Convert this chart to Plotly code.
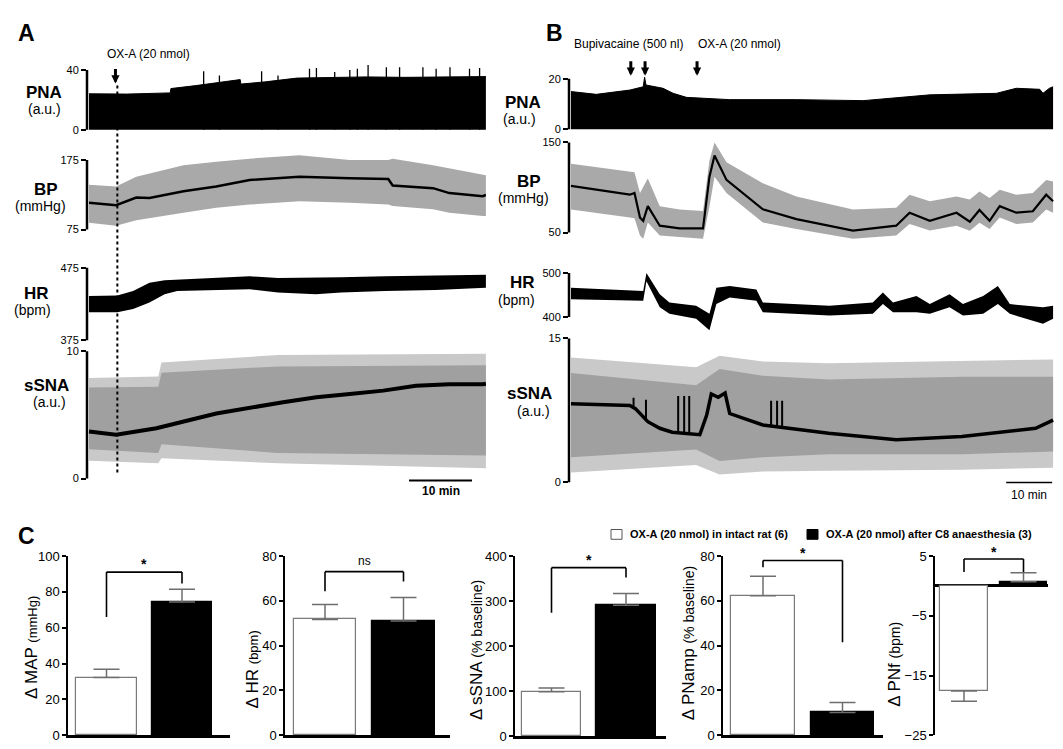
import plotly.graph_objects as go

W, H = 1063, 749
FONT = "Liberation Sans, Arial, Helvetica, sans-serif"

# ================= Panel A recordings (time in min) =================
pnaA_t   = [0, 6, 12.9, 13.0, 17, 21, 24, 24.1, 28, 33, 38, 44, 50, 56, 63]
pnaA_top = [24.0, 23.8, 24.6, 27.5, 29.5, 31.5, 33.5, 30.5, 32.0, 34.5, 35.0, 35.3, 35.0, 35.0, 35.5]
pnaA_spk_t = [18.2, 20.7, 27.4, 30.0, 35.0, 36.1, 39.0, 41.4, 42.6, 44.3, 47.2, 49.3, 53.0, 55.1, 57.3, 60.4, 62.0]
pnaA_spk_h = [39.1, 36.3, 39.1, 36.3, 40.7, 41.3, 38.5, 40.0, 40.7, 43.3, 41.8, 41.8, 41.8, 40.7, 41.8, 40.7, 41.3]

bpA_t    = [0, 4.3, 7.5, 9.6, 15, 20.2, 25.5, 33.4, 41.4, 47.5, 48.2, 54.6, 57.2, 62.5, 63]
bpA_mean = [113.5, 110.2, 121, 120.5, 130, 137, 146.4, 151, 148.7, 147.8, 138.4, 134.6, 127.5, 123, 125]
bpA_up   = [139.4, 137, 151, 155.7, 167.5, 172.5, 177, 182, 175, 175, 177, 167.5, 163, 153, 153]
bpA_lo   = [85, 80.6, 88.6, 92.3, 99.4, 106.4, 111, 115.8, 113.5, 111, 109, 104.2, 99.4, 94.7, 94.7]

hrA_t   = [0, 4.5, 7, 9.6, 12, 14, 20, 25.5, 30, 36, 40, 47, 55, 63]
hrA_top = [436.3, 437, 443, 454.3, 457.9, 458.8, 461, 463.3, 461, 461, 462, 463.3, 464.6, 465.5]
hrA_bot = [413.7, 413.7, 418.2, 427.3, 438.5, 443, 444.4, 445.3, 441, 438.5, 441, 443, 444.4, 447.6]

ssnaA_t    = [0, 4.3, 10.7, 15, 20.2, 30.8, 36.1, 41.4, 46.7, 51.9, 57.2, 62.5, 63]
ssnaA_mean = [3.69, 3.44, 3.95, 4.46, 5.1, 5.99, 6.38, 6.64, 6.9, 7.28, 7.41, 7.41, 7.45]
ssnaA_env_t   = [0, 11, 11.5, 30, 63]
ssnaA_core_up = [7.15, 7.2, 8.3, 8.8, 8.9]
ssnaA_core_lo = [2.3, 2.0, 2.7, 2.0, 1.8]
ssnaA_tip_up  = [7.9, 8.0, 9.1, 9.7, 9.8]
ssnaA_tip_lo  = [1.4, 1.2, 1.6, 1.2, 0.8]

eventsA_t = [4.2]
dottedA_t = 4.5

# ================= Panel B recordings (time in min) =================
pnaB_t   = [0, 5.5, 12.8, 15.7, 16.0, 16.3, 20, 22.2, 25.1, 34.5, 49, 63.5, 78, 92.5, 96.8, 101.9, 102.6, 104, 104.8]
pnaB_top = [14.9, 13.8, 15.5, 16.8, 20.6, 17.5, 16.2, 14.2, 12.6, 11.7, 11.7, 11.3, 13.6, 14.2, 16.2, 15.8, 14.2, 16.2, 16.8]

bpB_t    = [0, 12.8, 13.8, 15, 15.7, 16.7, 19.3, 23.6, 28.7, 30.1, 31.2, 33.8, 41.7, 49, 61.3, 70.7, 73.6, 78,
            83.8, 86.7, 88.8, 91, 93.2, 96.8, 100.4, 103.3, 104.8]
bpB_mean = [101.8, 92, 93.8, 66.6, 63, 79.3, 57.6, 54.7, 54.7, 112, 135.5, 108.4, 75.8, 64.9, 52.2, 57.6, 72, 63,
            72, 62, 75, 63, 79.3, 72, 73.6, 92, 84.8]
bpB_up   = [126.4, 117.4, 117, 93.8, 101, 110, 79.3, 75.7, 74, 130, 150, 128, 104.7, 90, 75.7, 77.5, 92, 84.8,
            90, 86.6, 95.6, 88.4, 97.5, 92, 93.8, 108.4, 106.6]
bpB_lo   = [75.7, 66.6, 66, 46.7, 43, 61.2, 46.7, 45, 43, 79, 112, 94, 61.2, 54, 43, 46.7, 59.4, 52.2,
            57.6, 52, 61, 54, 66.6, 59.4, 61.2, 75.7, 72]

hrB_t   = [0, 15.7, 16.4, 19.3, 21.4, 27.2, 30.1, 31.6, 34.5, 40.3, 41.7, 56.2, 65.6, 67.8, 70, 75.1, 78,
           82.3, 85.2, 89.6, 92.8, 95.4, 102.6, 104.8]
hrB_top = [466.7, 459.2, 500, 451.8, 433.3, 425.9, 407.4, 466.7, 470.3, 462.9, 433.3, 425.9, 433.3, 455.6,
           433.3, 448.1, 429.6, 451.8, 429.6, 448.1, 470.3, 429.6, 422.2, 425.9]
hrB_bot = [440.7, 437, 481.5, 422.2, 407.4, 396.3, 370.3, 429.6, 444.4, 437, 411, 403.6, 407.4, 429.6,
           411, 411, 407.4, 422.2, 403.6, 407.4, 429.6, 407.4, 385.2, 396.3]

ssnaB_t    = [0, 12.8, 14, 16.7, 19.3, 22, 28, 29.5, 30.5, 32, 33.5, 34.5, 41.7, 56, 70.7, 85, 101, 103.8, 104.8]
ssnaB_mean = [8.18, 8.01, 7.67, 6.31, 5.62, 5.21, 4.95, 7.0, 9.2, 8.86, 9.3, 7.16, 5.97, 5.11, 4.43, 4.77,
              5.62, 6.31, 6.48]
ssnaB_spk_t    = [13.6, 16.3, 23.3, 24.6, 25.7, 43.5, 44.8, 45.9]
ssnaB_spk_base = [7.9, 6.6, 5.1, 5.1, 5.0, 5.8, 5.8, 5.7]
ssnaB_spk_top  = [8.8, 8.6, 9.0, 9.0, 9.0, 8.5, 8.5, 8.5]
ssnaB_env_t   = [0, 27.2, 32.3, 41.7, 56, 85, 104.8]
ssnaB_core_up = [11.4, 10.1, 11.8, 11.1, 10.7, 11.0, 11.0]
ssnaB_core_lo = [2.6, 3.4, 2.2, 2.6, 2.9, 2.9, 3.2]
ssnaB_tip_up  = [13.0, 12.0, 13.2, 12.6, 12.4, 12.6, 12.8]
ssnaB_tip_lo  = [1.0, 1.8, 0.8, 1.1, 1.2, 1.3, 1.5]

eventsB_t = [13.0, 16.1, 27.4]

# ================= Panel C group data =================
conds = ["OX-A (20 nmol) in intact rat (6)", "OX-A (20 nmol) after C8 anaesthesia (3)"]
map_mean, map_err = [32.2, 74.3], [4.6, 7.1]
hr_mean, hr_err = [51.7, 51.0], [6.6, 10.5]
ssna_mean, ssna_err = [98.5, 290.6], [8.5, 26.0]
pnamp_mean, pnamp_err = [62.2, 10.2], [8.8, 4.4]
pnf_mean, pnf_err = [-17.6, 0.7], [1.7, 1.5]
# significance brackets: (top, left leg end, right leg end, mark height, mark)
map_sig = (91, 66, 84.7, 95.5, "*")
hr_sig = (73, 64.3, 68.6, 77.8, "ns")
ssna_sig = (374, 274, 352, 391, "*")
pnamp_sig = (78, 75, 41.5, 81.5, "*")
pnf_sig = (4.5, 2.3, 2.3, 5.7, "*")


# ================= helpers =================
def lin(p, p1, v1, p2, v2):
    return v1 + (p - p1) * (v2 - v1) / (p2 - p1)


def px(p):
    return p / W


def py(p):
    return 1 - p / H


fig = go.Figure()
layout = {}
shapes = []
annots = []


def set_axes(n, xpx, xcal, ypx, ycal, xopts=None, yopts=None, tsize=11):
    sx = "" if n == 1 else str(n)
    xr = [lin(xpx[0], *xcal), lin(xpx[1], *xcal)]
    yr = [lin(ypx[1], *ycal), lin(ypx[0], *ycal)]
    xa = dict(domain=[px(xpx[0]), px(xpx[1])], range=xr, anchor="y" + sx, showgrid=False,
              zeroline=False, fixedrange=True)
    ya = dict(domain=[py(ypx[1]), py(ypx[0])], range=yr, anchor="x" + sx, showgrid=False,
              zeroline=False, fixedrange=True, tickfont=dict(size=tsize, color="black", family=FONT))
    if xopts:
        xa.update(xopts)
    if yopts:
        ya.update(yopts)
    layout["xaxis" + sx] = xa
    layout["yaxis" + sx] = ya
    return "x" + sx, "y" + sx


def trace_yaxis(lo, hi):
    return dict(tickvals=[lo, hi], ticks="outside", ticklen=5, tickwidth=2, tickcolor="black",
                showline=False)


def bracket(xr, yr, lo, hi):
    shapes.append(dict(type="line", xref=xr + " domain", yref=yr, x0=0, x1=0, y0=lo, y1=hi,
                       line=dict(color="black", width=2.5)))


def band(xr, yr, t, up, lo, color):
    fig.add_trace(go.Scatter(x=list(t) + list(t)[::-1], y=list(up) + list(lo)[::-1], fill="toself",
                             fillcolor=color, line=dict(width=0), mode="lines", xaxis=xr, yaxis=yr,
                             hoverinfo="skip", showlegend=False))


def line(xr, yr, t, v, width=2, color="black"):
    fig.add_trace(go.Scatter(x=t, y=v, mode="lines", line=dict(color=color, width=width),
                             xaxis=xr, yaxis=yr, hoverinfo="skip", showlegend=False))


def spikes(xr, yr, t, base, top, width=1.5):
    xs, ys = [], []
    for ti, b, h in zip(t, base, top):
        xs += [ti, ti, None]
        ys += [b, h, None]
    fig.add_trace(go.Scatter(x=xs, y=ys, mode="lines", line=dict(color="black", width=width),
                             xaxis=xr, yaxis=yr, hoverinfo="skip", showlegend=False))


def ann(text, x, y, size=12, bold=False, xanchor="center", yanchor="middle", **kw):
    d = dict(text=("<b>%s</b>" % text) if bold else text, x=x, y=y, xref=kw.pop("xref", "paper"),
             yref=kw.pop("yref", "paper"), showarrow=False, xanchor=xanchor, yanchor=yanchor,
             font=dict(size=size, color="black", family=FONT))
    d.update(kw)
    annots.append(d)


def arrow(xref, t, ytip):
    annots.append(dict(x=t, y=py(ytip), xref=xref, yref="paper", ax=0, ay=-16, showarrow=True, text="",
                       arrowhead=2, arrowsize=0.55, arrowwidth=3, arrowcolor="black"))


XA = (81, 0, 81 + 6.3 * 63, 63)      # panel A time calibration
XB = (563, 0, 563 + 4.6 * 104.8, 104.8)  # panel B time calibration
XA_PX = (79, 478)
XB_PX = (561, 1046)
noX = dict(visible=False)

# ---------------- Panel A ----------------
xr, yr = set_axes(1, XA_PX, XA, (44, 118), (56, 40, 117, 0), noX, trace_yaxis(0, 40))
fig.add_trace(go.Scatter(x=pnaA_t, y=pnaA_top, fill="tozeroy", fillcolor="black", mode="lines",
                         line=dict(color="black", width=1), xaxis=xr, yaxis=yr, hoverinfo="skip",
                         showlegend=False))
spikes(xr, yr, pnaA_spk_t, [0] * len(pnaA_spk_t), pnaA_spk_h, 1.3)
bracket(xr, yr, 0, 40)
xA1 = xr

xr, yr = set_axes(2, XA_PX, XA, (135, 223), (148, 175, 219, 75), noX, trace_yaxis(75, 175))
band(xr, yr, bpA_t, bpA_up, bpA_lo, "#a9a9a9")
line(xr, yr, bpA_t, bpA_mean, 2.5)
bracket(xr, yr, 75, 175)

xr, yr = set_axes(3, XA_PX, XA, (250, 334), (258, 475, 332, 375), noX, trace_yaxis(375, 475))
band(xr, yr, hrA_t, hrA_top, hrA_bot, "black")
bracket(xr, yr, 375, 475)

xr, yr = set_axes(4, XA_PX, XA, (336, 475), (343, 10, 473, 0), noX, trace_yaxis(0, 10))
band(xr, yr, ssnaA_env_t, ssnaA_tip_up, ssnaA_tip_lo, "#c9c9c9")
band(xr, yr, ssnaA_env_t, ssnaA_core_up, ssnaA_core_lo, "#a0a0a0")
line(xr, yr, ssnaA_t, ssnaA_mean, 4)
bracket(xr, yr, 0, 10)
xA4 = xr

# dotted drug line, arrow, scale bar
shapes.append(dict(type="line", xref=xA1, yref="paper", x0=dottedA_t, x1=dottedA_t, y0=py(72), y1=py(470),
                   line=dict(color="black", width=2, dash="dot")))
for t in eventsA_t:
    arrow(xA1, t, 70)
ann("OX-A (20 nmol)", px(140), py(40), 12)
shapes.append(dict(type="line", xref=xA4, yref="paper", x0=50.8, x1=60.8, y0=py(475), y1=py(475),
                   line=dict(color="black", width=2)))
ann("10 min", 55.8, py(486), 12, True, xref=xA4)

# labels A
ann("PNA", px(36), py(79), 17, True)
ann("(a.u.)", px(36), py(96), 14)
ann("BP", px(38), py(178), 17, True)
ann("(mmHg)", px(32), py(195), 14)
ann("HR", px(28), py(284), 17, True)
ann("(bpm)", px(24), py(301), 14)
ann("sSNA", px(38), py(378), 17, True)
ann("(a.u.)", px(41), py(395), 14)

# ---------------- Panel B ----------------
xr, yr = set_axes(5, XB_PX, XB, (58, 118), (65, 20, 116.5, 0), noX, trace_yaxis(0, 20))
fig.add_trace(go.Scatter(x=pnaB_t, y=pnaB_top, fill="tozeroy", fillcolor="black", mode="lines",
                         line=dict(color="black", width=1), xaxis=xr, yaxis=yr, hoverinfo="skip",
                         showlegend=False))
bracket(xr, yr, 0, 20)
xB1 = xr

xr, yr = set_axes(6, XB_PX, XB, (123, 232), (130, 150, 222, 50), noX, trace_yaxis(50, 150))
band(xr, yr, bpB_t, bpB_up, bpB_lo, "#a9a9a9")
line(xr, yr, bpB_t, bpB_mean, 2.2)
bracket(xr, yr, 50, 150)

xr, yr = set_axes(7, XB_PX, XB, (258, 326), (263.3, 500, 308.3, 400), noX, trace_yaxis(400, 500))
band(xr, yr, hrB_t, hrB_top, hrB_bot, "black")
bracket(xr, yr, 400, 500)

xr, yr = set_axes(8, XB_PX, XB, (328, 478), (330, 15, 476.7, 0), noX, trace_yaxis(0, 15))
band(xr, yr, ssnaB_env_t, ssnaB_tip_up, ssnaB_tip_lo, "#c9c9c9")
band(xr, yr, ssnaB_env_t, ssnaB_core_up, ssnaB_core_lo, "#a0a0a0")
line(xr, yr, ssnaB_t, ssnaB_mean, 3.5)
spikes(xr, yr, ssnaB_spk_t, ssnaB_spk_base, ssnaB_spk_top, 2)
bracket(xr, yr, 0, 15)
xB4 = xr

for t in eventsB_t:
    arrow(xB1, t, 62)
ann("Bupivacaine (500 nl)", px(620), py(30), 12)
ann("OX-A (20 nmol)", px(731), py(30), 12)
shapes.append(dict(type="line", xref=xB4, yref="paper", x0=94.6, x1=104.6, y0=py(477), y1=py(477),
                   line=dict(color="black", width=1.5)))
ann("10 min", 99.6, py(490), 12, xref=xB4)

ann("PNA", px(515), py(89), 17, True)
ann("(a.u.)", px(511), py(106), 14)
ann("BP", px(521), py(170), 17, True)
ann("(mmHg)", px(515), py(187), 14)
ann("HR", px(514), py(273), 17, True)
ann("(bpm)", px(508), py(291), 14)
ann("sSNA", px(521), py(386), 17, True)
ann("(a.u.)", px(525), py(404), 14)

# ---------------- Panel C ----------------
xpos = list(range(len(conds)))
bar_fill = ["white", "black"]
bar_line = ["#7a7a7a", "black"]


def bar_panel(n, xpx, centers, ypx, ycal, means, errs, ticks, sig, xaxis_line=True):
    xcal = (centers[0], 0, centers[1], 1)
    yopts = dict(showline=True, linecolor="black", linewidth=1.5, ticks="outside", ticklen=4,
                 tickwidth=1.5, tickcolor="black", tickvals=ticks)
    if xaxis_line:
        xopts = dict(showline=True, linecolor="black", linewidth=2.5, showticklabels=False, ticks="")
    else:
        xopts = dict(visible=False)
        yopts.update(zeroline=True, zerolinecolor="black", zerolinewidth=2.5)
    xr, yr = set_axes(n, xpx, xcal, ypx, ycal, xopts, yopts, tsize=13)
    up = [0 if m < 0 else e for m, e in zip(means, errs)]
    dn = [e if m < 0 else 0 for m, e in zip(means, errs)]
    fig.add_trace(go.Bar(x=xpos, y=means, width=0.8, xaxis=xr, yaxis=yr,
                         marker=dict(color=bar_fill, line=dict(color=bar_line, width=1.2)),
                         error_y=dict(type="data", symmetric=False, array=up, arrayminus=dn,
                                      color="#6e6e6e", thickness=1.5, width=13),
                         hoverinfo="skip", showlegend=False))
    top, l_end, r_end, mark_y, mark = sig
    for (x0, y0, x1, y1) in [(xpos[0], l_end, xpos[0], top), (xpos[0], top, xpos[1], top),
                             (xpos[1], top, xpos[1], r_end)]:
        shapes.append(dict(type="line", xref=xr, yref=yr, x0=x0, y0=y0, x1=x1, y1=y1,
                           line=dict(color="black", width=1.6)))
    # mark position converted to paper space so it is never hidden above the axis range
    mark_px = lin(mark_y, ycal[1], ycal[0], ycal[3], ycal[2])
    ann(mark, (xpos[0] + xpos[1]) / 2, py(mark_px), 14 if mark == "*" else 12, mark == "*", xref=xr)
    return xr, yr


bar_panel(9, (60, 222), (98.5, 174), (552, 735), (552, 100, 735, 0), map_mean, map_err,
          [0, 20, 40, 60, 80, 100], map_sig)
bar_panel(10, (277, 442), (317, 395.5), (552, 735), (552, 80, 735, 0), hr_mean, hr_err,
          [0, 20, 40, 60, 80], hr_sig)
bar_panel(11, (507, 658), (543.5, 618), (552, 736), (552, 400, 736, 0), ssna_mean, ssna_err,
          [0, 100, 200, 300, 400], ssna_sig)
bar_panel(12, (715, 875), (755, 834.5), (552, 735), (552, 80, 735, 0), pnamp_mean, pnamp_err,
          [0, 20, 40, 60, 80], pnamp_sig)
bar_panel(13, (927, 1040), (956, 1015.5), (552, 735), (552, 5, 735, -25), pnf_mean, pnf_err,
          [-25, -15, -5, 5], pnf_sig, xaxis_line=False)


# y titles (rotated)
def ytitle(main, unit, x, y, usize):
    ann("Δ %s <span style='font-size:%dpx'>(%s)</span>" % (main, usize, unit), px(x), py(y), 17,
        textangle=-90)


ytitle("MAP", "mmHg", 23, 646, 13)
ytitle("HR", "bpm", 245, 668, 13)
ytitle("sSNA", "% baseline", 468, 648, 14)
ytitle("PNamp", "% baseline", 680, 641, 14)
ytitle("PNf", "bpm", 887, 663, 14)

# legend for group bars
shapes.append(dict(type="rect", xref="paper", yref="paper", x0=px(603), x1=px(614), y0=py(535), y1=py(525),
                   fillcolor="white", line=dict(color="#555555", width=1)))
ann(conds[0], px(620), py(530), 11, True, xanchor="left")
shapes.append(dict(type="rect", xref="paper", yref="paper", x0=px(799), x1=px(810), y0=py(535), y1=py(525),
                   fillcolor="black", line=dict(color="black", width=1)))
ann(conds[1], px(816), py(530), 11, True, xanchor="left")

# panel letters
ann("A", px(18), py(18), 23, True)
ann("B", px(546), py(18), 23, True)
ann("C", px(18), py(532), 23, True)

layout.update(dict(width=W, height=H, margin=dict(l=0, r=0, t=0, b=0), paper_bgcolor="white",
                   plot_bgcolor="rgba(0,0,0,0)", showlegend=False, shapes=shapes, annotations=annots,
                   font=dict(family=FONT, color="black"), bargap=0))
fig.update_layout(**layout)
fig.write_html("out.html")
